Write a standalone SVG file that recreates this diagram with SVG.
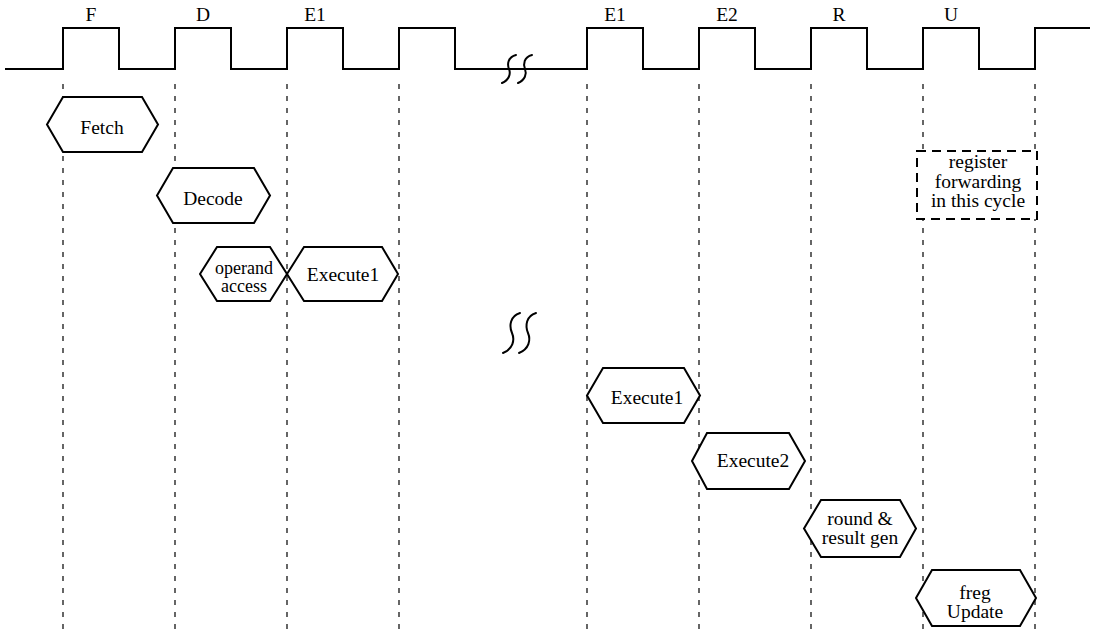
<svg xmlns="http://www.w3.org/2000/svg" width="1094" height="635" viewBox="0 0 1094 635">
  <style>
    .clk { fill: none; stroke: #000; stroke-width: 2; stroke-linejoin: miter; }
    .grid { fill: none; stroke: #000; stroke-width: 1.2; stroke-dasharray: 5 7; }
    .hex { fill: #fff; stroke: #000; stroke-width: 2; stroke-linejoin: miter; }
    .note { fill: #fff; stroke: #000; stroke-width: 2; stroke-dasharray: 9 6; }
    .brk { fill: none; stroke: #000; stroke-width: 2; stroke-linecap: round; }
    text { font-family: "Liberation Serif", "Times New Roman", serif; font-size: 19.5px; fill: #000; text-anchor: middle; }
    .small { font-size: 18px; }
  </style>

  <rect width="1094" height="635" fill="#fff"/>

  <!-- clock waveform with a break between the two halves -->
  <g id="clock">
    <path class="clk" d="M5,69 H63 V28 H119 V69 H175 V28 H231 V69 H287 V28 H343 V69 H399 V28 H455 V69 H587 V28 H643 V69 H699 V28 H755 V69 H811 V28 H867 V69 H923 V28 H979 V69 H1035 V28 H1090"/>
    <path class="brk" d="M502,83 C509,80 511,74 509,69 C507,64 508,57 516,55"/>
    <path class="brk" d="M518,83 C525,80 527,74 525,69 C523,64 524,57 532,55"/>
    <text x="91" y="21">F</text>
    <text x="203" y="21">D</text>
    <text x="315" y="21">E1</text>
    <text x="615" y="21">E1</text>
    <text x="727" y="21">E2</text>
    <text x="839" y="21">R</text>
    <text x="951" y="21">U</text>
  </g>

  <!-- cycle boundaries -->
  <g id="connectors">
    <line class="grid" x1="63" y1="84" x2="63" y2="635"/>
    <line class="grid" x1="175" y1="84" x2="175" y2="635"/>
    <line class="grid" x1="287" y1="84" x2="287" y2="635"/>
    <line class="grid" x1="399" y1="84" x2="399" y2="635"/>
    <line class="grid" x1="587" y1="84" x2="587" y2="635"/>
    <line class="grid" x1="699" y1="84" x2="699" y2="635"/>
    <line class="grid" x1="811" y1="84" x2="811" y2="635"/>
    <line class="grid" x1="923" y1="84" x2="923" y2="635"/>
    <line class="grid" x1="1035" y1="84" x2="1035" y2="635"/>
  </g>

  <!-- time break in the middle of the pipeline -->
  <g id="break">
    <path class="brk" d="M503,353 C513,349 515,340 512,333 C509,326 510,316 520,313"/>
    <path class="brk" d="M519,353 C529,349 531,340 528,333 C525,326 526,316 536,313"/>
  </g>

  <g id="fetch">
    <polygon class="hex" points="47,124.5 63,97 142,97 158,124.5 142,152 63,152"/>
    <text x="102" y="134">Fetch</text>
  </g>

  <g id="decode">
    <polygon class="hex" points="157,195.5 173,168 254,168 270,195.5 254,223 173,223"/>
    <text x="213" y="205">Decode</text>
  </g>

  <g id="operand-access">
    <polygon class="hex" points="200,274 217,247 270,247 287,274 270,301 217,301"/>
    <text class="small" x="244" y="274">operand</text>
    <text class="small" x="244" y="292">access</text>
  </g>

  <g id="execute1-a">
    <polygon class="hex" points="287,274 304,247 382,247 398,274 382,301 304,301"/>
    <text x="343" y="281">Execute1</text>
  </g>

  <g id="execute1-b">
    <polygon class="hex" points="587,395.5 603,368 684,368 700,395.5 684,423 603,423"/>
    <text x="647" y="404">Execute1</text>
  </g>

  <g id="execute2">
    <polygon class="hex" points="692,461 707,433 789,433 805,461 789,489 707,489"/>
    <text x="753" y="467">Execute2</text>
  </g>

  <g id="round-result">
    <polygon class="hex" points="804,528.5 821,500 900,500 916,528.5 900,557 821,557"/>
    <text x="860" y="525">round &amp;</text>
    <text x="860" y="544">result gen</text>
  </g>

  <g id="freg-update">
    <polygon class="hex" points="916,598 932,570 1020,570 1036,598 1020,626 932,626"/>
    <text x="975" y="599">freg</text>
    <text x="975" y="618">Update</text>
  </g>

  <g id="forwarding-note">
    <rect class="note" x="917" y="151" width="120" height="68"/>
    <text x="978" y="168">register</text>
    <text x="978" y="188">forwarding</text>
    <text x="978" y="207">in this cycle</text>
  </g>
</svg>
